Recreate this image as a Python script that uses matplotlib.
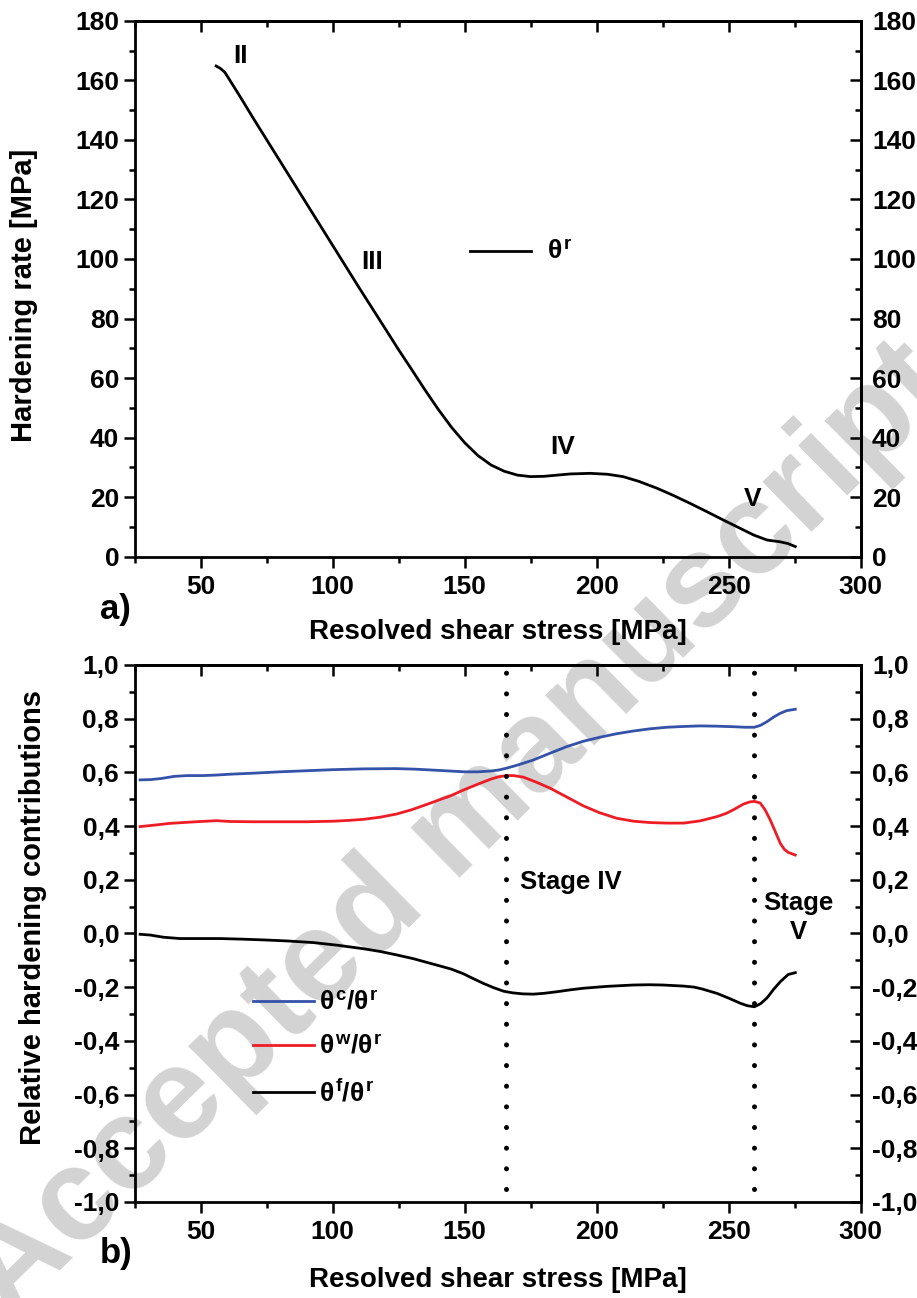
import matplotlib
matplotlib.use('Agg')
import matplotlib.pyplot as plt
from matplotlib.ticker import MultipleLocator, FuncFormatter


# hardening rate theta^r vs resolved shear stress (panel a)
stress_a = [55.9, 57.5, 59.2, 65, 70, 80, 90, 100, 110, 120, 125, 130, 135, 140, 145, 150,
            155, 160, 165, 170, 175, 180, 185, 190, 197.5, 204, 210, 216, 222.8, 229,
            235.4, 242, 248, 254.4, 259.4, 264.5, 269.5, 272.5, 275.2]
theta_r = [164.8, 164.0, 162.7, 154.5, 147.2, 133.0, 118.8, 104.6, 90.4, 76.5, 69.5, 62.8,
           56.0, 49.5, 43.5, 38.3, 34.0, 30.8, 28.7, 27.4, 26.9, 27.0, 27.4, 27.8, 28.0,
           27.7, 26.9, 25.3, 23.0, 20.6, 17.9, 15.0, 12.3, 9.5, 7.3, 5.6, 5.0, 4.4, 3.4]

# relative contributions (panel b)
stress_c = [27.1, 31, 35, 40, 45, 51, 56, 61, 70, 80, 90, 100, 111.7, 124, 131, 137, 144.5,
            150, 155, 160, 163, 166, 170, 176, 182, 188.7, 195, 201.3, 207.6, 213.9, 220,
            226.6, 233, 239.2, 245.5, 251.8, 256, 259.7, 262, 264.5, 267, 269.5, 272, 275.2]
ratio_c = [0.572, 0.573, 0.577, 0.585, 0.588, 0.588, 0.590, 0.593, 0.597, 0.602, 0.606,
           0.610, 0.613, 0.614, 0.612, 0.609, 0.605, 0.602, 0.602, 0.605, 0.609, 0.616,
           0.627, 0.646, 0.670, 0.696, 0.716, 0.731, 0.744, 0.754, 0.762, 0.768, 0.771,
           0.773, 0.772, 0.770, 0.768, 0.768, 0.775, 0.789, 0.806, 0.820, 0.830, 0.835]

stress_w = [27.1, 33, 38.4, 45, 50, 56.1, 61.2, 70, 80, 90, 100, 106, 111.7, 118, 124.3, 130,
            136.9, 141, 144.5, 149.5, 156, 160, 163, 166, 168.5, 172.3, 177, 182.4, 188.7,
            195, 201, 207.6, 214, 220.3, 226.6, 232.9, 239, 245.5, 249, 252, 255.6, 258,
            259.7, 261.9, 263.8, 265.7, 267.6, 269.5, 271, 272.5, 275.2]
ratio_w = [0.398, 0.404, 0.410, 0.414, 0.417, 0.420, 0.417, 0.416, 0.416, 0.416, 0.418,
           0.421, 0.425, 0.433, 0.445, 0.461, 0.485, 0.500, 0.512, 0.534, 0.560, 0.575,
           0.584, 0.588, 0.588, 0.582, 0.564, 0.541, 0.508, 0.475, 0.450, 0.429, 0.418,
           0.413, 0.411, 0.411, 0.419, 0.435, 0.447, 0.462, 0.482, 0.490, 0.492, 0.486,
           0.460, 0.423, 0.380, 0.336, 0.314, 0.302, 0.292]

stress_f = [27.1, 31, 35.9, 42.2, 50, 57.4, 65, 73.8, 83, 92.7, 102, 111.7, 118, 124.3, 130.6,
            136.9, 141, 145, 149.5, 153, 157.1, 161, 164.7, 168, 172, 176.1, 180, 185, 190,
            195, 204, 213.9, 220, 225, 232.9, 237, 240, 245.5, 250, 254.4, 257, 259.7, 262,
            264.5, 267, 269.5, 272.5, 275.2]
ratio_f = [-0.003, -0.006, -0.014, -0.019, -0.019, -0.019, -0.021, -0.024, -0.028, -0.034,
           -0.044, -0.057, -0.067, -0.080, -0.094, -0.111, -0.122, -0.133, -0.150, -0.167,
           -0.186, -0.202, -0.215, -0.221, -0.225, -0.226, -0.223, -0.217, -0.210, -0.204,
           -0.197, -0.192, -0.191, -0.192, -0.196, -0.200, -0.207, -0.223, -0.241, -0.260,
           -0.269, -0.273, -0.262, -0.240, -0.208, -0.180, -0.153, -0.146]

stage_bounds = [165.7, 259.7]

plt.rcParams.update({'font.family': 'Liberation Sans', 'font.weight': 'bold',
                     'font.size': 19, 'axes.linewidth': 2.0,
                     'mathtext.fontset': 'custom', 'mathtext.rm': 'Liberation Sans',
                     'mathtext.it': 'Liberation Sans', 'mathtext.bf': 'Liberation Sans:bold'})

fig = plt.figure(figsize=(9.17, 12.98), dpi=100)
ax1 = fig.add_axes([0.1467, 0.5711, 0.792, 0.4129])
ax2 = fig.add_axes([0.1467, 0.0740, 0.792, 0.4137])


def style_axes(ax):
    ax.patch.set_visible(False)
    ax.set_xlim(25, 300)
    ax.xaxis.set_major_locator(MultipleLocator(50))
    ax.xaxis.set_minor_locator(MultipleLocator(25))
    ax.tick_params(which='both', width=1.8, labelsize=19)
    ax.tick_params(which='major', length=8)
    ax.tick_params(which='minor', length=4.5)
    ax.tick_params(axis='x', which='both', direction='out', top=False, pad=5)
    ax.tick_params(axis='y', which='both', direction='out', right=False, pad=3)
    sec = ax.secondary_xaxis('top')
    sec.xaxis.set_major_locator(MultipleLocator(50))
    sec.xaxis.set_minor_locator(MultipleLocator(25))
    sec.tick_params(which='both', direction='in', width=1.8, labeltop=False)
    sec.tick_params(which='major', length=8)
    sec.tick_params(which='minor', length=4.5)
    return sec


def right_axis(ax, major, minor, fmt=None):
    sec = ax.secondary_yaxis('right')
    sec.yaxis.set_major_locator(MultipleLocator(major))
    sec.yaxis.set_minor_locator(MultipleLocator(minor))
    if fmt is not None:
        sec.yaxis.set_major_formatter(fmt)
    sec.tick_params(which='both', direction='in', width=1.8, labelsize=19, pad=8)
    sec.tick_params(which='major', length=8)
    sec.tick_params(which='minor', length=4.5)
    return sec


style_axes(ax1)
style_axes(ax2)

# panel a
ax1.plot(stress_a, theta_r, color='black', lw=2.0, label=r'$\theta^{\mathbf{r}}$')
ax1.set_ylim(0, 180)
ax1.yaxis.set_major_locator(MultipleLocator(20))
ax1.yaxis.set_minor_locator(MultipleLocator(10))
right_axis(ax1, 20, 10)

ax1.set_xlabel('Resolved shear stress [MPa]', fontsize=20, fontweight='bold')
ax1.xaxis.set_label_coords(0.5, -0.117)
ax1.set_ylabel('Hardening rate [MPa]', fontsize=21, fontweight='bold')
ax1.yaxis.set_label_coords(-0.133, 0.488)

ax1.text(65, 168, 'II', fontsize=19, ha='center', va='center')
ax1.text(115, 99, 'III', fontsize=19, ha='center', va='center')
ax1.text(187, 37, 'IV', fontsize=19, ha='center', va='center')
ax1.text(259, 19.5, 'V', fontsize=19, ha='center', va='center')

leg1 = ax1.legend(loc='center left', bbox_to_anchor=(0.462, 0.567), frameon=False,
                  fontsize=19, handlelength=2.3, handletextpad=0.6, borderpad=0,
                  borderaxespad=0)
for t in leg1.get_texts():
    t.set_fontweight('normal')

# panel b
ax2.plot(stress_c, ratio_c, color='#3352a8', lw=2.0, label=r'$\theta^{\mathbf{c}}/\theta^{\mathbf{r}}$')
ax2.plot(stress_w, ratio_w, color='#ee1c25', lw=2.0, label=r'$\theta^{\mathbf{w}}/\theta^{\mathbf{r}}$')
ax2.plot(stress_f, ratio_f, color='black', lw=2.0, label=r'$\theta^{\mathbf{f}}/\theta^{\mathbf{r}}$')
for xb in stage_bounds:
    ax2.plot([xb, xb], [-0.95, 0.99], color='black', lw=3.6,
             linestyle=(0, (0.01, 4.12)), dash_capstyle='round')

ax2.set_ylim(-1, 1)
comma = FuncFormatter(lambda v, pos: ('%.1f' % v).replace('.', ',').replace('-0,0', '0,0'))
ax2.yaxis.set_major_locator(MultipleLocator(0.2))
ax2.yaxis.set_minor_locator(MultipleLocator(0.1))
ax2.yaxis.set_major_formatter(comma)
right_axis(ax2, 0.2, 0.1, comma)

ax2.set_xlabel('Resolved shear stress [MPa]', fontsize=20, fontweight='bold')
ax2.xaxis.set_label_coords(0.5, -0.122)
ax2.set_ylabel('Relative hardening contributions', fontsize=21, fontweight='bold')
ax2.yaxis.set_label_coords(-0.121, 0.53)

ax2.text(171, 0.19, 'Stage IV', fontsize=18.5, ha='left', va='center')
ax2.text(276.5, 0.06, 'Stage\nV', fontsize=18.5, ha='center', va='center', linespacing=1.25)

leg2 = ax2.legend(loc='center left', bbox_to_anchor=(0.163, 0.2855), frameon=False,
                  fontsize=19, handlelength=2.3, handletextpad=0.2, borderpad=0,
                  borderaxespad=0, labelspacing=0.75)
for t in leg2.get_texts():
    t.set_fontweight('normal')

fig.text(100 / 917, 1 - 610 / 1298, 'a)', fontsize=25, va='center', ha='left')
fig.text(100 / 917, 1 - 1254 / 1298, 'b)', fontsize=25, va='center', ha='left')

# watermark
fig.text(0.5, 0.36, 'Accepted manuscript', fontsize=94, color='#d3d3d3', rotation=44.5,
         ha='center', va='center', rotation_mode='anchor', zorder=-1)

fig.savefig('out.png', dpi=100)
plt.close()
